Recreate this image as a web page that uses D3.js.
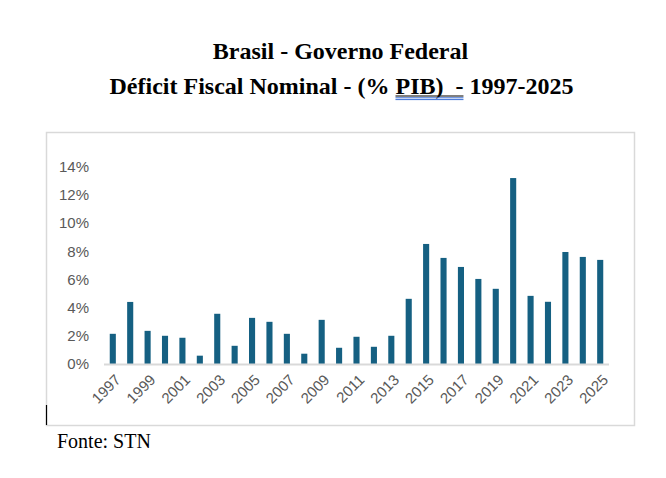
<!DOCTYPE html>
<html>
<head>
<meta charset="utf-8">
<script src="https://cdn.jsdelivr.net/npm/d3@7"></script>
<style>
  body { margin: 0; background: #fff; }
  svg { display: block; }
</style>
</head>
<body>
<div id="chart"></div>
<script>
// Data
const years = ['1997','1998','1999','2000','2001','2002','2003','2004','2005','2006',
    '2007','2008','2009','2010','2011','2012','2013','2014','2015','2016',
    '2017','2018','2019','2020','2021','2022','2023','2024','2025'];
const deficit = [2.14, 4.4, 2.35, 2.0, 1.86, 0.59, 3.56, 1.29, 3.27, 2.99,
    2.14, 0.73, 3.13, 1.15, 1.93, 1.22, 2.0, 4.62, 8.51, 7.52,
    6.88, 6.03, 5.33, 13.18, 4.83, 4.41, 7.94, 7.59, 7.38];
const yTicks = [0, 2, 4, 6, 8, 10, 12, 14];
const labelYears = years.filter((d, i) => i % 2 === 0);

const W = 666, H = 478;

const svg = d3.select('#chart')
    .append('svg')
    .attr('width', W)
    .attr('height', H);

// Title
const title = svg.append('g')
    .attr('font-family', '"Liberation Serif", "Times New Roman", serif')
    .attr('font-weight', 'bold')
    .attr('font-size', '24px')
    .attr('fill', '#000')
    .attr('text-anchor', 'middle');

title.append('text')
    .attr('x', 340.5)
    .attr('y', 59)
    .text('Brasil - Governo Federal');

const cx2 = 341.5;
const line2 = title.append('text')
    .attr('x', cx2)
    .attr('y', 94)
    .attr('xml:space', 'preserve')
    .style('white-space', 'pre');
const t1 = line2.append('tspan').text('Déficit Fiscal Nominal - (% ');
const t2 = line2.append('tspan').text('PIB)  -');
line2.append('tspan').text(' 1997-2025');

// underline under "PIB)  -" with spell-check marks
const total = line2.node().getComputedTextLength();
const w1 = t1.node().getComputedTextLength();
const w2 = t2.node().getComputedTextLength();
const ux = cx2 - total / 2 + w1;
svg.append('line')
    .attr('x1', ux).attr('x2', ux + w2)
    .attr('y1', 96).attr('y2', 96)
    .attr('stroke', '#000').attr('stroke-width', 1.2);
[97.8, 99.6].forEach(yy => {
    svg.append('line')
        .attr('x1', ux).attr('x2', ux + w2)
        .attr('y1', yy).attr('y2', yy)
        .attr('stroke', '#3b6fd6').attr('stroke-width', 1);
});

// Chart frame
svg.append('rect')
    .attr('x', 46.5)
    .attr('y', 132.5)
    .attr('width', 588)
    .attr('height', 293)
    .attr('fill', '#fff')
    .attr('stroke', '#d9d9d9')
    .attr('stroke-width', 1.5);

// small black mark at bottom-left
svg.append('line')
    .attr('x1', 46.5).attr('x2', 46.5)
    .attr('y1', 405).attr('y2', 425)
    .attr('stroke', '#000')
    .attr('stroke-width', 1.2);

// Scales
const x = d3.scaleBand()
    .domain(years)
    .range([104, 609])
    .paddingInner(0.65)
    .paddingOuter(0.33);

const y = d3.scaleLinear()
    .domain([0, 14])
    .range([364, 166.5]);

// Y axis labels
svg.append('g')
    .selectAll('text')
    .data(yTicks)
    .enter()
    .append('text')
    .attr('x', 89)
    .attr('y', d => y(d))
    .attr('dy', '0.36em')
    .attr('text-anchor', 'end')
    .attr('font-family', '"Liberation Sans", Arial, sans-serif')
    .attr('font-size', '15px')
    .attr('fill', '#595959')
    .text(d => d + '%');

// Bars
svg.append('g')
    .selectAll('rect')
    .data(years)
    .enter()
    .append('rect')
    .attr('x', d => x(d))
    .attr('y', (d, i) => y(deficit[i]))
    .attr('width', x.bandwidth())
    .attr('height', (d, i) => y(0) - y(deficit[i]))
    .attr('fill', '#156082');

// X axis line
svg.append('line')
    .attr('x1', 104).attr('x2', 609)
    .attr('y1', y(0) + 0.5).attr('y2', y(0) + 0.5)
    .attr('stroke', '#d9d9d9')
    .attr('stroke-width', 2);

// X labels, rotated
svg.append('g')
    .selectAll('text')
    .data(labelYears)
    .enter()
    .append('text')
    .attr('transform', d => `translate(${x(d) + x.bandwidth() / 2 + 5},${y(0) + 13}) rotate(-45)`)
    .attr('text-anchor', 'end')
    .attr('dy', '0.36em')
    .attr('font-family', '"Liberation Sans", Arial, sans-serif')
    .attr('font-size', '15px')
    .attr('fill', '#595959')
    .text(d => d);

// Source
svg.append('text')
    .attr('x', 57)
    .attr('y', 448)
    .attr('font-family', '"Liberation Serif", "Times New Roman", serif')
    .attr('font-size', '20px')
    .attr('fill', '#000')
    .text('Fonte: STN');
</script>
</body>
</html>
